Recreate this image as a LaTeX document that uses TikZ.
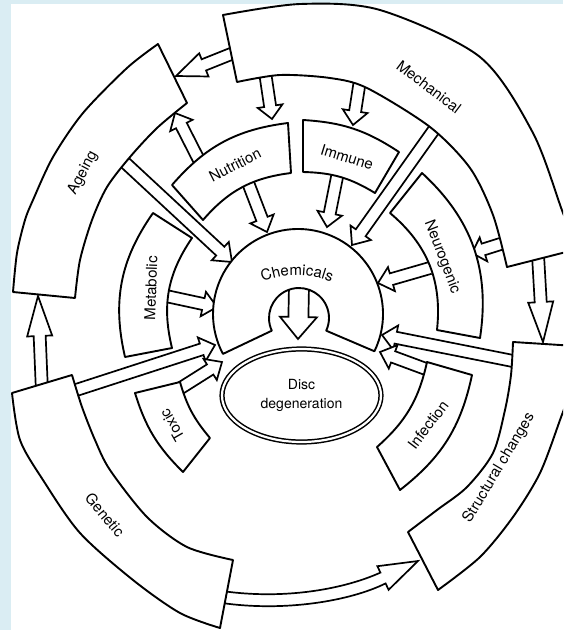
\documentclass[tikz,border=0pt]{standalone}
\usepackage{fontspec}
\setmainfont{TeX Gyre Heros}
\usetikzlibrary{calc,shapes.geometric,decorations.text}
\definecolor{bgblue}{RGB}{218,237,243}
\tikzset{
  box/.style={draw, fill=white, line width=1.9pt, line join=round},
  blockarrow/.style={draw, fill=white, line width=1.7pt, line join=miter},
  lbl/.style={font=\fontsize{15}{18}\selectfont, inner sep=0pt},
  disc/.style={ellipse, draw, fill=white, double, double distance=2.2pt, line width=1.5pt,
    minimum width=159pt, minimum height=93pt, inner sep=0pt, align=center,
    font=\fontsize{14}{19}\selectfont},
}
\def\shaftw{6pt}
\def\headw{12.5pt}
% block arrow from #2 to #3, head length #1
\newcommand{\barrow}[3][14pt]{%
  \draw[blockarrow] let \p1=(#2), \p2=(#3), \n1={atan2(\y2-\y1,\x2-\x1)} in
    ($(\p1)+({\n1+90}:\shaftw)$)
    -- ($(\p2)+({\n1+180}:#1)+({\n1+90}:\shaftw)$)
    -- ($(\p2)+({\n1+180}:#1)+({\n1+90}:\headw)$)
    -- (\p2)
    -- ($(\p2)+({\n1+180}:#1)+({\n1-90}:\headw)$)
    -- ($(\p2)+({\n1+180}:#1)+({\n1-90}:\shaftw)$)
    -- ($(\p1)+({\n1-90}:\shaftw)$);}

\begin{document}
\begin{tikzpicture}[x=1pt,y=-1pt]
\useasboundingbox (0,0) rectangle (563,630);
\clip (0,0) rectangle (563,630);
\fill[bgblue] (0,0) rectangle (563,630);
\fill[white] (11,4) rectangle (563,630);

% arrow ends
\coordinate (m-age) at (236,52);    \coordinate (age-m) at (176,76);
\coordinate (m-nut) at (265,72);    \coordinate (nut-m) at (272,119);
\coordinate (m-imm) at (360,80);    \coordinate (imm-m) at (353,125);
\coordinate (m-chem) at (438,124);  \coordinate (chem-m) at (352,245);
\coordinate (m-neu) at (510,241);   \coordinate (neu-m) at (472,253);
\coordinate (m-str) at (538,255);   \coordinate (str-m) at (543,342);
\coordinate (nut-chem) at (247,180); \coordinate (chem-nut) at (267,232);
\coordinate (imm-chem) at (338,172); \coordinate (chem-imm) at (327,227);
\coordinate (nut-age) at (203,168);  \coordinate (age-nut) at (175,113);
\coordinate (age-chem) at (120,158); \coordinate (chem-age) at (232,262);
\coordinate (met-chem) at (166,296); \coordinate (chem-met) at (217,307);
\coordinate (gen-chem) at (70,392);  \coordinate (chem-gen) at (215,345);
\coordinate (tox-chem) at (176,391); \coordinate (chem-tox) at (222,362);
\coordinate (gen-age) at (42,392);   \coordinate (age-gen) at (38,296);
\coordinate (neu-chem) at (430,268); \coordinate (chem-neu) at (378,283);
\coordinate (str-chem) at (518,362); \coordinate (chem-str) at (382,335);
\coordinate (inf-chem) at (434,372); \coordinate (chem-inf) at (380,352);
\coordinate (gen-str) at (222,597);  \coordinate (str-gen) at (418,561);
\coordinate (key-top) at (299,286);  \coordinate (key-tip) at (298,339);

% arrows
\barrow[30pt]{m-age}{age-m}
\barrow[13pt]{m-nut}{nut-m}
\barrow{m-imm}{imm-m}
\barrow[15pt]{m-chem}{chem-m}
\barrow[12pt]{m-neu}{neu-m}
\barrow[40pt]{m-str}{str-m}
\barrow{nut-chem}{chem-nut}
\barrow{imm-chem}{chem-imm}
\barrow{nut-age}{age-nut}
\barrow[16pt]{age-chem}{chem-age}
\barrow{met-chem}{chem-met}
\barrow{gen-chem}{chem-gen}
\barrow{tox-chem}{chem-tox}
\barrow[40pt]{gen-age}{age-gen}
\barrow{neu-chem}{chem-neu}
\barrow{str-chem}{chem-str}
\barrow{inf-chem}{chem-inf}
{\def\shaftw{10pt}\def\headw{18.5pt}\barrow[22pt]{key-top}{key-tip}}
% Genetic to Structural changes (curved)
\draw[blockarrow] ($(gen-str)+(0,-6)$) .. controls (285,600) and (344,589) .. ($(str-gen)+(-37.6,11.6)$)
  -- ($(str-gen)+(-40.6,5.2)$) -- (str-gen) -- ($(str-gen)+(-29.4,28.8)$)
  -- ($(str-gen)+(-32.4,22.4)$) .. controls (350,601) and (285,612) .. ($(gen-str)+(0,6)$);

% outer ring
\draw[box] (223,15) -- (237,82)
  -- plot[smooth] coordinates {(237,82) (280,75) (330,78) (367,88) (430,127) (470,168) (493,215) (507,267)}
  -- (578,249)
  -- plot[smooth] coordinates {(578,249) (563,213) (533,133) (480,57) (380,10) (300,4) (223,15)} -- cycle;
\draw[box] (158,44) -- (187,103)
  -- plot[smooth] coordinates {(187,103) (157,128) (130,157) (107,187) (92,220) (80,260) (75,298)}
  -- (13,292)
  -- plot[smooth] coordinates {(13,292) (17,253) (25,220) (33,200) (53,157) (83,113) (127,68) (158,44)} -- cycle;
\draw[box] (12,393) -- (72,375)
  -- plot[smooth] coordinates {(72,375) (82,407) (95,440) (110,470) (147,517) (187,547) (233,560)}
  -- (220,628)
  -- plot[smooth] coordinates {(220,628) (180,613) (133,580) (80,533) (43,480) (20,440) (12,393)} -- cycle;
\draw[box] (513,342) -- (576,346)
  -- plot[smooth] coordinates {(576,346) (570,390) (560,420) (540,473) (513,517) (480,557) (438,590)}
  -- (408,532)
  -- plot[smooth] coordinates {(408,532) (437,510) (467,487) (493,453) (505,410) (511,375) (513,342)} -- cycle;

% middle ring
\draw[box] (172,185) to[bend left=21] (288,123) -- (291,173) to[bend right=21] (203,220) -- cycle;
\draw[box] (303,120) to[bend left=15] (399,152) -- (375,193) to[bend right=15] (303,172) -- cycle;
\draw[box] (390,213) -- (422,173) to[bend left=28] (480,338) -- (437,330) to[bend right=28] (390,213) -- cycle;
\draw[box] (153,213) -- (192,238) to[bend right=24] (172,348) -- (125,357) to[bend left=24] (153,213) -- cycle;
\draw[box] (135,393) -- (180,382) to[bend right=12] (210,438) -- (183,472) to[bend left=14] (135,393) -- cycle;
\draw[box] (427,362) -- (472,375) to[bend left=20] (400,490) -- (377,447) to[bend right=18] (427,362) -- cycle;

% chemicals
\coordinate (chemc) at (298,314);
\coordinate (keyc) at (299,318);
\coordinate (chemtxt) at (297,360);
\draw[box] ($(chemc)+(-26:85pt)$) arc[start angle=-26, end angle=208, radius=85pt]
  -- ($(keyc)+(205:30pt)$) arc[start angle=205, end angle=-25, radius=30pt] -- cycle;
\path[decorate, decoration={text along path, text align=center,
    text={|\fontsize{15}{18}\selectfont|Chemicals}}]
  ($(chemtxt)+(120:85pt)$) arc[start angle=120, end angle=60, radius=85pt];
\node[disc] (disc) at (301.5,395.5) {Disc\\degeneration};

% labels
\node[lbl, rotate=-37] (mech) at (429,87) {Mechanical};
\node[lbl, rotate=62] (age) at (83,173) {Ageing};
\node[lbl, rotate=-50] (gen) at (105,515) {Genetic};
\node[lbl, rotate=59] (str) at (499,468) {Structural changes};
\node[lbl, rotate=27] (nut) at (235,165) {Nutrition};
\node[lbl, rotate=-17] (imm) at (347,157) {Immune};
\node[lbl, rotate=-69] (neu) at (442,257) {Neurogenic};
\node[lbl, rotate=88] (met) at (151,288) {Metabolic};
\node[lbl, rotate=120] (tox) at (172,425) {Toxic};
\node[lbl, rotate=53] (inf) at (428,425) {Infection};
\end{tikzpicture}
\end{document}
